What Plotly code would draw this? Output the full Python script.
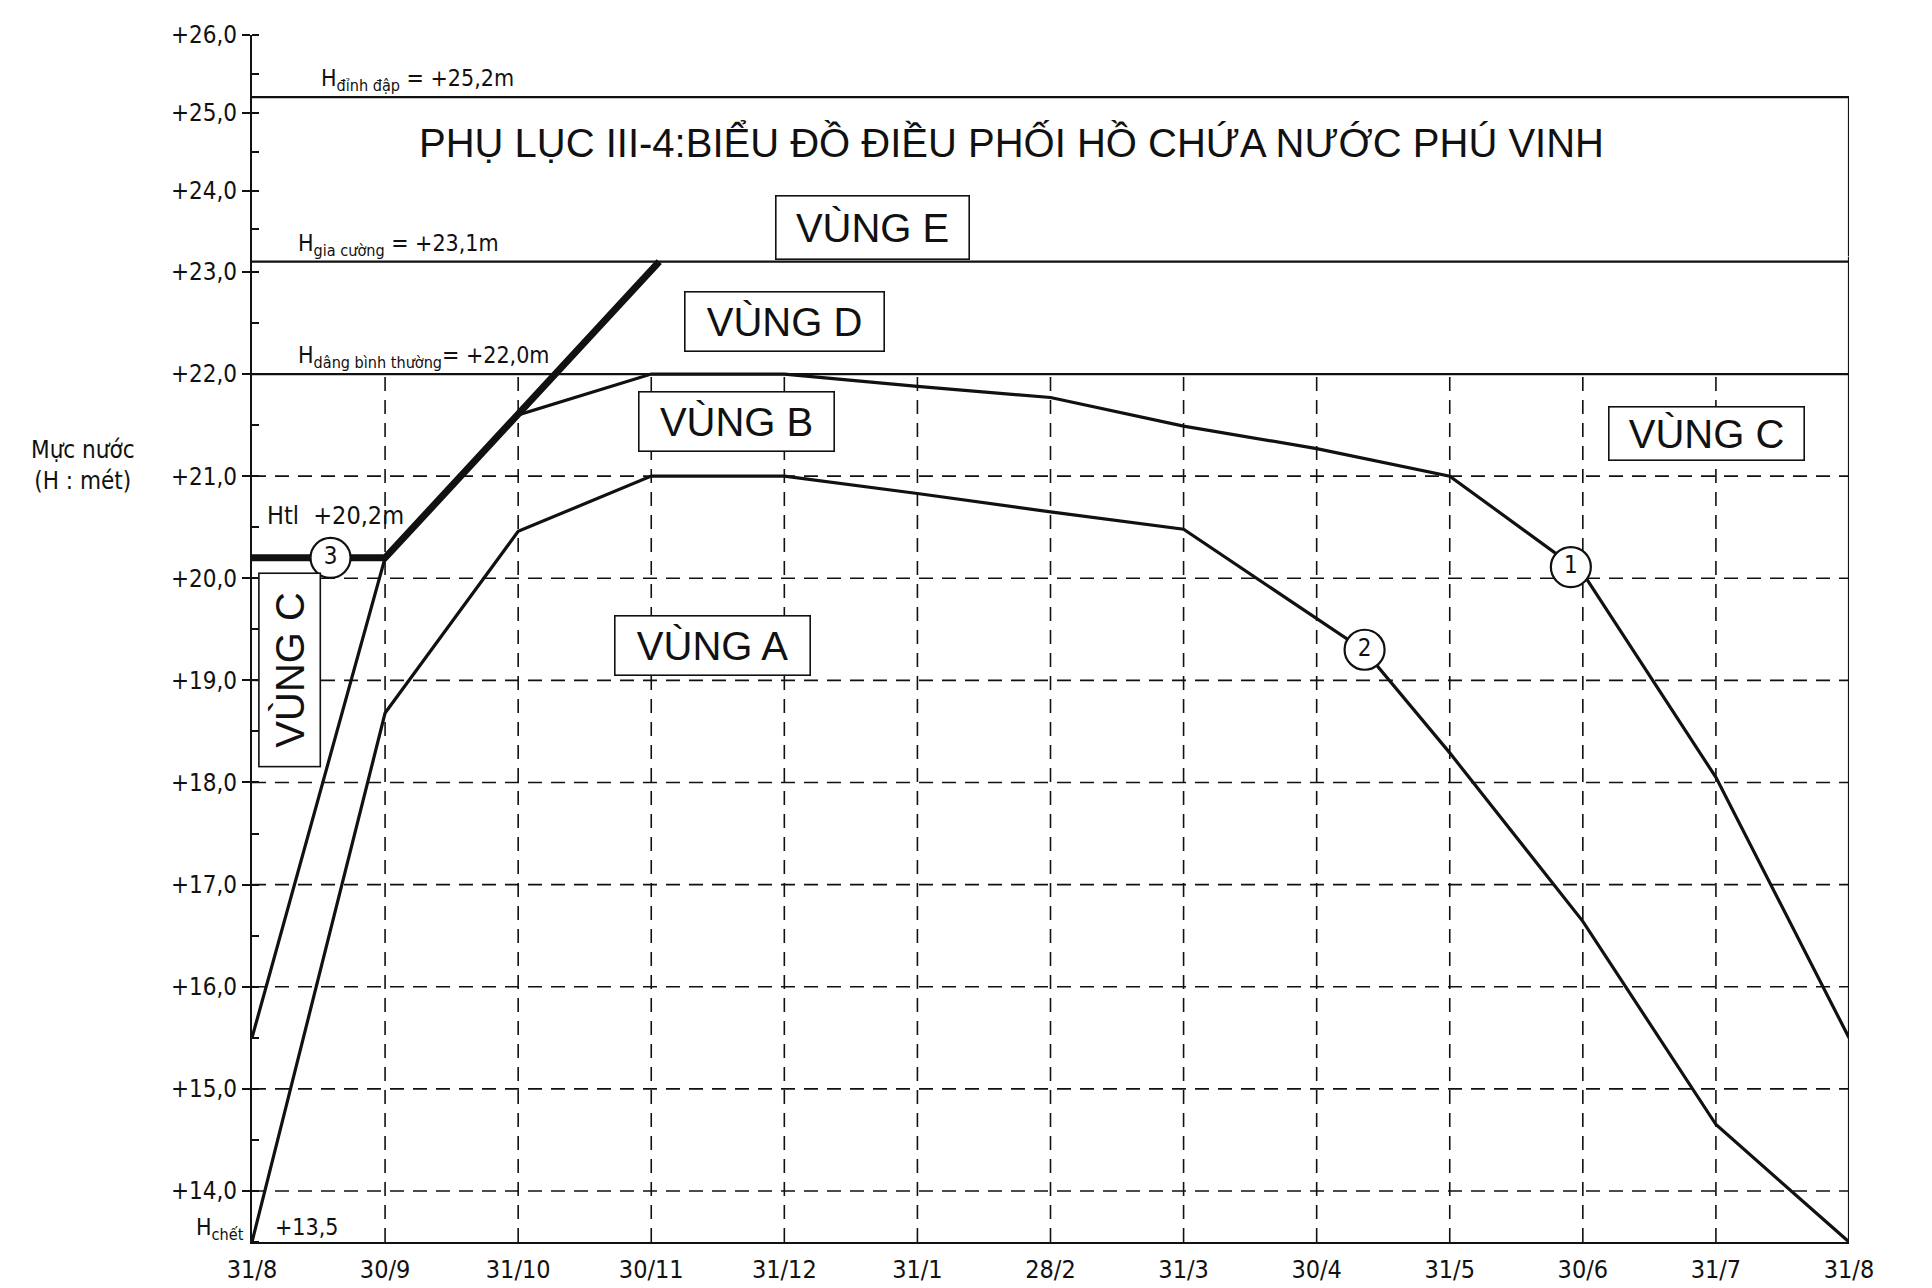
import plotly.graph_objects as go

# ---------------- data ----------------
months = ["31/8", "30/9", "31/10", "30/11", "31/12", "31/1", "28/2",
          "31/3", "30/4", "31/5", "30/6", "31/7", "31/8"]
month_pos = list(range(len(months)))

# curve (1): upper rule curve
curve1_x = [0, 1, 2, 3, 4, 5, 6, 7, 8, 9, 10, 11, 12]
curve1_h = [15.5, 20.2, 21.6, 22.0, 22.0, 21.88, 21.77, 21.49, 21.27, 21.0, 20.05, 18.05, 15.5]
# curve (2): lower rule curve
curve2_x = [0, 1, 2, 3, 4, 5, 6, 7, 8.36, 9, 10, 11, 12]
curve2_h = [13.5, 18.68, 20.46, 21.0, 21.0, 20.83, 20.65, 20.48, 19.29, 18.29, 16.64, 14.65, 13.5]
# curve (3): flood-control line
curve3_x = [0, 1, 3.06]
curve3_h = [20.2, 20.2, 23.1]

h_crest = 25.2    # H đỉnh đập
h_flood = 23.1    # H gia cường
h_normal = 22.0   # H dâng bình thường
h_tl = 20.2       # Htl
h_dead = 13.5     # H chết

y_lower_ticks = [14, 15, 16, 17, 18, 19, 20, 21, 22, 23]
y_upper_ticks = [24, 25, 26]

def fmt(v):
    return "+" + f"{v:.1f}".replace(".", ",")

# ---------------- style ----------------
Y_SPLIT = 23.15
LOWER_TOP = 0.8164
NARROW = "Liberation Sans Narrow, DejaVu Sans Condensed, Arial Narrow, sans-serif"
SANS = "Liberation Sans, Arial, sans-serif"
BLACK = "#111111"

fig = go.Figure()

# dashed grid (lower area only)
gx, gy = [], []
for t in y_lower_ticks:
    if t < h_normal:
        gx += [month_pos[0], month_pos[-1], None]
        gy += [t, t, None]
for m in month_pos[1:-1]:
    gx += [m, m, None]
    gy += [h_dead, h_normal, None]
fig.add_trace(go.Scatter(x=gx, y=gy, mode="lines", hoverinfo="skip",
                         line=dict(color=BLACK, width=1.6, dash="14px,9px")))

# solid reference lines + frame
fig.add_trace(go.Scatter(x=[month_pos[0], month_pos[-1], None, month_pos[0], month_pos[-1], None,
                            month_pos[-1], month_pos[-1]],
                         y=[h_normal, h_normal, None, h_flood, h_flood, None, h_dead, Y_SPLIT],
                         mode="lines", hoverinfo="skip", line=dict(color=BLACK, width=2.2)))
fig.add_trace(go.Scatter(x=[month_pos[0], month_pos[-1], month_pos[-1]],
                         y=[h_crest, h_crest, Y_SPLIT], yaxis="y2",
                         mode="lines", hoverinfo="skip", line=dict(color=BLACK, width=2.2)))

# curves
fig.add_trace(go.Scatter(x=curve1_x, y=curve1_h, mode="lines", line=dict(color=BLACK, width=3.2)))
fig.add_trace(go.Scatter(x=curve2_x, y=curve2_h, mode="lines", line=dict(color=BLACK, width=3.2)))
fig.add_trace(go.Scatter(x=curve3_x, y=curve3_h, mode="lines", line=dict(color=BLACK, width=7)))

# numbered circles
fig.add_trace(go.Scatter(x=[9.91, 8.36, 0.59], y=[20.11, 19.3, 20.2], mode="markers+text",
                         text=["1", "2", "3"], textposition="middle center",
                         textfont=dict(family=NARROW, size=24, color=BLACK),
                         marker=dict(size=40, color="white", line=dict(color=BLACK, width=2.2)),
                         hoverinfo="skip"))

ann = []
def box(text, x, y, w, h, yref="y", angle=0):
    ann.append(dict(text=text, x=x, y=y, xref="x", yref=yref, showarrow=False,
                    font=dict(family=SANS, size=40, color=BLACK),
                    bordercolor=BLACK, borderwidth=1.6, bgcolor="white",
                    width=w, height=h, textangle=angle,
                    xanchor="center", yanchor="middle"))

box("VÙNG E", 4.66, 23.52, 190, 60, yref="y2")
box("VÙNG D", 4.0, 22.51, 196, 56)
box("VÙNG B", 3.64, 21.54, 192, 56)
box("VÙNG A", 3.46, 19.34, 192, 56)
box("VÙNG C", 10.93, 21.42, 192, 50)
box("VÙNG C", 0.28, 19.1, 190, 58, angle=-90)

lab = dict(family=NARROW, size=23, color=BLACK)
ann += [
    dict(text="PHỤ LỤC III-4:BIỂU ĐỒ ĐIỀU PHỐI HỒ CHỨA NƯỚC PHÚ VINH", x=5.71, y=24.63,
         xref="x", yref="y2", showarrow=False, font=dict(family=SANS, size=40, color=BLACK)),
    dict(text="H<sub>đỉnh đập</sub> = " + fmt(h_crest) + "m", x=0.5, y=h_crest, xref="x", yref="y2",
         xanchor="left", yanchor="bottom", showarrow=False, font=lab),
    dict(text="H<sub>gia cường</sub> = " + fmt(h_flood) + "m", x=0.33, y=h_flood, xref="x", yref="y",
         xanchor="left", yanchor="bottom", showarrow=False, font=lab),
    dict(text="H<sub>dâng bình thường</sub>= " + fmt(h_normal) + "m", x=0.33, y=h_normal, xref="x", yref="y",
         xanchor="left", yanchor="bottom", showarrow=False, font=lab),
    dict(text="Htl  " + fmt(h_tl) + "m", x=0.1, y=h_tl, xref="x", yref="y",
         xanchor="left", yanchor="bottom", yshift=26, showarrow=False,
         font=dict(family=NARROW, size=25, color=BLACK)),
    dict(text="H<sub>chết</sub>", x=0, y=h_dead, xref="paper", yref="y", xanchor="right",
         yanchor="bottom", xshift=-6, yshift=-4, showarrow=False, font=lab),
    dict(text=f"+{h_dead}".replace(".", ","), x=0.16, y=h_dead, xref="x", yref="y",
         xanchor="left", yanchor="bottom", showarrow=False, font=lab),
    dict(text="Mực nước<br>(H : mét)", x=-0.106, y=21.1, xref="paper", yref="y",
         xanchor="center", yanchor="middle", showarrow=False,
         font=dict(family=NARROW, size=24, color=BLACK)),
    dict(text="Thời gian (ngày/tháng)", x=0.874, y=-0.036, xref="paper", yref="paper",
         xanchor="left", yanchor="top", showarrow=False, font=lab),
]

fig.update_layout(
    width=1932, height=1288,
    margin=dict(l=244, r=91, t=27, b=52),
    paper_bgcolor="white", plot_bgcolor="white",
    showlegend=False, annotations=ann,
    xaxis=dict(range=[month_pos[0], month_pos[-1]], tickvals=month_pos, ticktext=months,
               showgrid=False, zeroline=False, showline=True, linecolor=BLACK, linewidth=2.2,
               ticks="", ticklabelstandoff=4,
               tickfont=dict(family=NARROW, size=25, color=BLACK), anchor="y"),
    yaxis=dict(domain=[0, LOWER_TOP], range=[h_dead, Y_SPLIT], tickvals=y_lower_ticks,
               ticktext=[fmt(v) for v in y_lower_ticks], showgrid=False, zeroline=False,
               showline=True, linecolor=BLACK, linewidth=2.2, ticks="outside", ticklen=8,
               tickcolor=BLACK, tickwidth=2,
               minor=dict(tick0=13.5, dtick=0.5, ticks="inside", ticklen=7, tickcolor=BLACK, tickwidth=2),
               tickfont=dict(family=NARROW, size=24, color=BLACK), anchor="x"),
    yaxis2=dict(domain=[LOWER_TOP, 1], range=[Y_SPLIT, 26], tickvals=y_upper_ticks,
                ticktext=[fmt(v) for v in y_upper_ticks], showgrid=False, zeroline=False,
                showline=True, linecolor=BLACK, linewidth=2.2, ticks="outside", ticklen=8,
                tickcolor=BLACK, tickwidth=2,
                minor=dict(tick0=23.5, dtick=0.5, ticks="inside", ticklen=7, tickcolor=BLACK, tickwidth=2),
                tickfont=dict(family=NARROW, size=24, color=BLACK), anchor="x"),
)

fig.write_html("out.html")
